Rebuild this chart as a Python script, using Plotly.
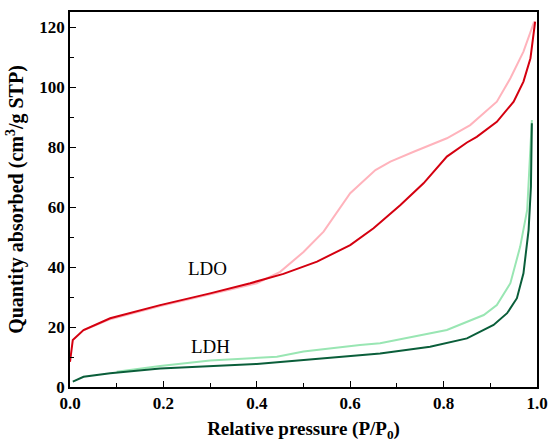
import plotly.graph_objects as go

# LDO adsorption branch
ldo_ads_x = [0.0, 0.006, 0.029, 0.086, 0.193, 0.30, 0.386, 0.457, 0.529, 0.60, 0.65, 0.686, 0.707, 0.757, 0.807, 0.85, 0.871, 0.914, 0.95, 0.971, 0.986, 0.996]
ldo_ads_y = [8.4, 15.7, 19.0, 22.9, 27.3, 31.2, 34.6, 37.7, 41.8, 47.3, 52.9, 57.9, 60.6, 67.9, 76.8, 81.5, 83.4, 88.4, 95.1, 101.8, 109.6, 121.8]
# LDO desorption branch
ldo_des_x = [0.994, 0.971, 0.943, 0.914, 0.857, 0.807, 0.736, 0.686, 0.654, 0.60, 0.543, 0.50, 0.45, 0.40, 0.30, 0.193, 0.086, 0.03]
ldo_des_y = [121.8, 111.8, 102.9, 95.1, 87.3, 82.9, 78.4, 75.1, 72.3, 64.6, 51.8, 45.0, 38.4, 34.6, 30.9, 27.0, 22.6, 19.0]
# LDH adsorption branch
ldh_ads_x = [0.006, 0.029, 0.086, 0.193, 0.40, 0.621, 0.664, 0.771, 0.85, 0.907, 0.936, 0.957, 0.971, 0.982, 0.987, 0.989]
ldh_ads_y = [1.8, 3.4, 4.6, 6.2, 7.7, 10.7, 11.2, 13.4, 16.2, 20.7, 24.6, 29.6, 37.9, 52.3, 66.8, 87.9]
# LDH desorption branch
ldh_des_x = [0.989, 0.979, 0.964, 0.943, 0.914, 0.886, 0.807, 0.664, 0.621, 0.50, 0.443, 0.30, 0.193, 0.10]
ldh_des_y = [89.0, 59.0, 46.8, 34.6, 27.3, 24.0, 19.0, 14.6, 14.0, 11.8, 10.1, 8.8, 7.0, 5.1]

x_ticks = [0.0, 0.2, 0.4, 0.6, 0.8, 1.0]
y_ticks = [0, 20, 40, 60, 80, 100, 120]

font_family = "Liberation Serif, Times New Roman, Times, serif"

fig = go.Figure()
fig.add_trace(go.Scatter(x=ldo_des_x, y=ldo_des_y, mode="lines",
                         line=dict(color="#ffb3bc", width=2)))
fig.add_trace(go.Scatter(x=ldo_ads_x, y=ldo_ads_y, mode="lines",
                         line=dict(color="#d40010", width=2)))
fig.add_trace(go.Scatter(x=ldh_des_x, y=ldh_des_y, mode="lines",
                         line=dict(color="#99e6b3", width=2)))
fig.add_trace(go.Scatter(x=ldh_ads_x, y=ldh_ads_y, mode="lines",
                         line=dict(color="#0a5e3a", width=2)))

fig.add_annotation(x=0.295, y=39.6, text="LDO", showarrow=False,
                   font=dict(family=font_family, size=19, color="black"))
fig.add_annotation(x=0.30, y=13.4, text="LDH", showarrow=False,
                   font=dict(family=font_family, size=19, color="black"))

axis_common = dict(
    showline=True, linecolor="black", linewidth=1.5, mirror=True,
    ticks="inside", ticklen=6, tickwidth=1.2, tickcolor="black",
    showgrid=False, zeroline=False, automargin=False,
    tickfont=dict(family=font_family, size=17, color="black", weight="bold"),
)

fig.update_layout(
    width=548, height=445,
    margin=dict(l=70, r=11, t=12, b=58),
    plot_bgcolor="white", paper_bgcolor="white",
    showlegend=False,
    xaxis=dict(range=[0, 1], tickvals=x_ticks, ticktext=[f"{v:.1f}" for v in x_ticks],
               minor=dict(ticks="inside", ticklen=4, tickcolor="black", dtick=0.1, tick0=0),
               title=dict(text="Relative pressure (P/P<sub>0</sub>)", standoff=10,
                          font=dict(family=font_family, size=19, color="black", weight="bold")),
               **axis_common),
    yaxis=dict(range=[0, 125], tickvals=y_ticks,
               minor=dict(ticks="inside", ticklen=4, tickcolor="black", dtick=10, tick0=0),
               title=dict(text="Quantity absorbed (cm<sup>3</sup>/g STP)", standoff=10,
                          font=dict(family=font_family, size=20, color="black", weight="bold")),
               **axis_common),
)

fig.write_html("out.html")
